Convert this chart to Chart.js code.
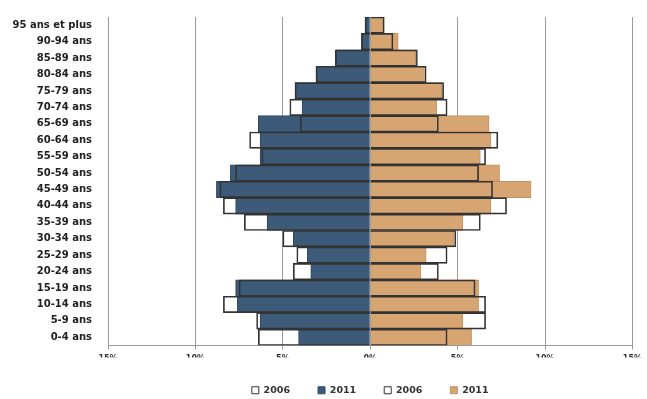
<!DOCTYPE html>
<html lang="fr">
<head>
<meta charset="utf-8">
<title>Pyramide des âges 2006 / 2011</title>
<script src="https://cdn.jsdelivr.net/npm/chart.js@4.4.1/dist/chart.umd.min.js"></script>
<style>
  html, body { margin: 0; padding: 0; background: #ffffff; }
  #wrap { width: 647px; height: 399px; position: relative; }
  canvas { display: block; }
</style>
</head>
<body>
<div id="wrap"><canvas id="pyramide" width="647" height="399"></canvas></div>
<script>
// Tranches d'âge, du haut vers le bas de la pyramide
const tranches = [
  "95 ans et plus", "90-94 ans", "85-89 ans", "80-84 ans", "75-79 ans",
  "70-74 ans", "65-69 ans", "60-64 ans", "55-59 ans", "50-54 ans",
  "45-49 ans", "40-44 ans", "35-39 ans", "30-34 ans", "25-29 ans",
  "20-24 ans", "15-19 ans", "10-14 ans", "5-9 ans", "0-4 ans"
];

// Part de chaque tranche (%), hommes à gauche, femmes à droite
const hommes2006 = [0.3, 0.5, 2.0, 3.1, 4.3, 4.6, 4.0, 6.9, 6.2, 7.7, 8.6, 8.4, 7.2, 5.0, 4.2, 4.4, 7.5, 8.4, 6.5, 6.4];
const hommes2011 = [0.25, 0.5, 1.95, 3.1, 4.3, 3.9, 6.4, 6.3, 6.3, 8.0, 8.8, 7.7, 5.9, 4.4, 3.6, 3.4, 7.7, 7.6, 6.3, 4.1];
const femmes2006 = [0.8, 1.3, 2.7, 3.2, 4.2, 4.4, 3.9, 7.3, 6.6, 6.2, 7.0, 7.8, 6.3, 4.9, 4.4, 3.9, 6.0, 6.6, 6.6, 4.4];
const femmes2011 = [0.8, 1.6, 2.6, 3.1, 4.1, 3.8, 6.8, 6.9, 6.3, 7.4, 9.2, 6.9, 5.3, 4.8, 3.2, 2.9, 6.2, 6.2, 5.3, 5.8];

// Graduations de l'axe horizontal
const graduations = [-15, -10, -5, 0, 5, 10, 15];

const negatif = arr => arr.map(v => -v);

const commun = { barPercentage: 1, categoryPercentage: 1, grouped: false };
const police = "'DejaVu Sans', Verdana, sans-serif";

new Chart(document.getElementById("pyramide"), {
  type: "bar",
  data: {
    labels: tranches,
    datasets: [
      Object.assign({
        label: "2006",
        data: negatif(hommes2006),
        backgroundColor: "rgba(255,255,255,0)",
        borderColor: "#333333",
        borderWidth: 1,
        order: 0
      }, commun),
      Object.assign({
        label: "2011",
        data: negatif(hommes2011),
        backgroundColor: "#3d5a78",
        borderColor: "#2f4862",
        borderWidth: 1,
        order: 1
      }, commun),
      Object.assign({
        label: "2006",
        data: femmes2006,
        backgroundColor: "rgba(255,255,255,0)",
        borderColor: "#333333",
        borderWidth: 1,
        order: 2
      }, commun),
      Object.assign({
        label: "2011",
        data: femmes2011,
        backgroundColor: "#d6a572",
        borderColor: "#c3915f",
        borderWidth: 1,
        order: 3
      }, commun)
    ]
  },
  options: {
    indexAxis: "y",
    responsive: false,
    animation: false,
    devicePixelRatio: 1,
    layout: { padding: { left: 8, right: 13, top: 17, bottom: -6 } },
    plugins: {
      tooltip: { enabled: false },
      legend: {
        position: "bottom",
        fullSize: false,
        labels: {
          boxWidth: 7,
          boxHeight: 7,
          padding: 28,
          color: "#333",
          font: { family: police, size: 9.5, weight: "bold" }
        }
      }
    },
    scales: {
      x: {
        min: -15,
        max: 15,
        afterBuildTicks: scale => { scale.ticks = graduations.map(v => ({ value: v })); },
        afterFit: scale => { scale.height = 12; },
        ticks: {
          callback: v => Math.abs(v) + "%",
          color: "#333",
          padding: 5,
          font: { family: police, size: 8, weight: "bold" }
        },
        grid: { color: "#9a9a9a", lineWidth: 1, tickLength: 4, drawTicks: true },
        border: { color: "#9a9a9a" }
      },
      y: {
        grid: { display: false, drawTicks: false },
        border: { display: true, color: "#9a9a9a" },
        afterFit: scale => {
          scale.width = 100;
          scale.paddingTop = 0;
          scale.paddingBottom = 0;
        },
        ticks: {
          color: "#222",
          padding: 16,
          autoSkip: false,
          font: { family: police, size: 10, weight: "bold" }
        }
      }
    }
  }
});
</script>
</body>
</html>
